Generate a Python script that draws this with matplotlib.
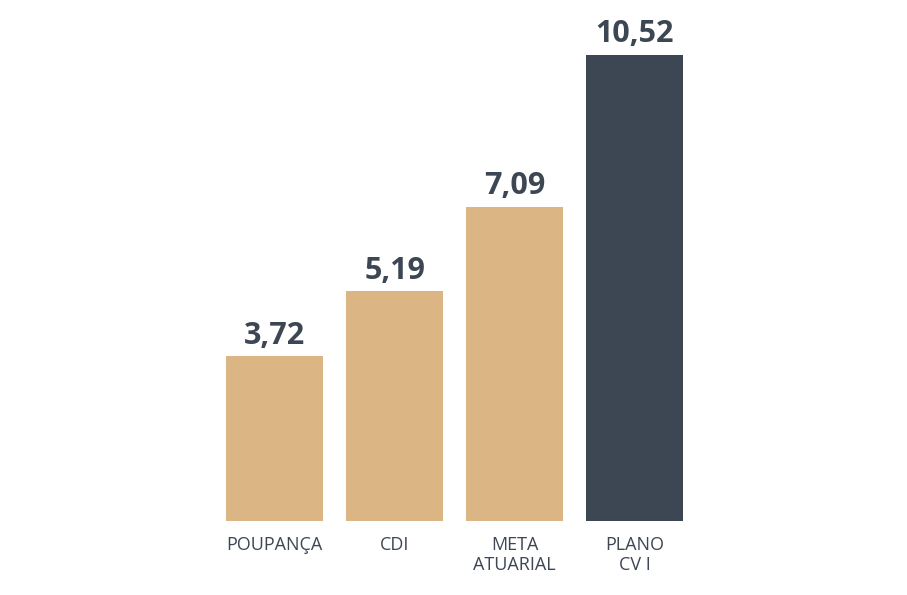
import matplotlib
matplotlib.use("Agg")
import matplotlib.pyplot as plt

categories = ["POUPANÇA", "CDI", "META\nATUARIAL", "PLANO\nCV I"]
values = [3.72, 5.19, 7.09, 10.52]
value_labels = ["3,72", "5,19", "7,09", "10,52"]
colors = ["#DBB584", "#DBB584", "#DBB584", "#3C4753"]
text_color = "#3C4753"

plt.rcParams['font.family'] = ['Open Sans', 'DejaVu Sans']

W, H = 907, 595
fig = plt.figure(figsize=(W / 100, H / 100), dpi=100)
left_px, right_px = 214.5, 694.5
bottom_px = 521
ytop = 11.5
axes_h = 466 * ytop / 10.52
ax = fig.add_axes([left_px / W, (H - bottom_px) / H, (right_px - left_px) / W, axes_h / H])

x = list(range(len(categories)))
ax.bar(x, values, width=0.81, color=colors)
ax.set_xlim(-0.5, len(categories) - 0.5)
ax.set_ylim(0, ytop)

for xi, v, lab in zip(x, values, value_labels):
    ax.annotate(lab, (xi, v), xytext=(0, 4), textcoords="offset points",
                ha="center", va="bottom", fontsize=22, fontweight="bold",
                color=text_color, annotation_clip=False)

ax.set_xticks(x)
ax.set_xticklabels(categories, fontsize=13, color=text_color, linespacing=1.1,
                   fontweight="medium")
ax.tick_params(axis="x", length=0, pad=11)
ax.set_yticks([])
for s in ax.spines.values():
    s.set_visible(False)

fig.savefig("out.png", dpi=100, facecolor="white")
